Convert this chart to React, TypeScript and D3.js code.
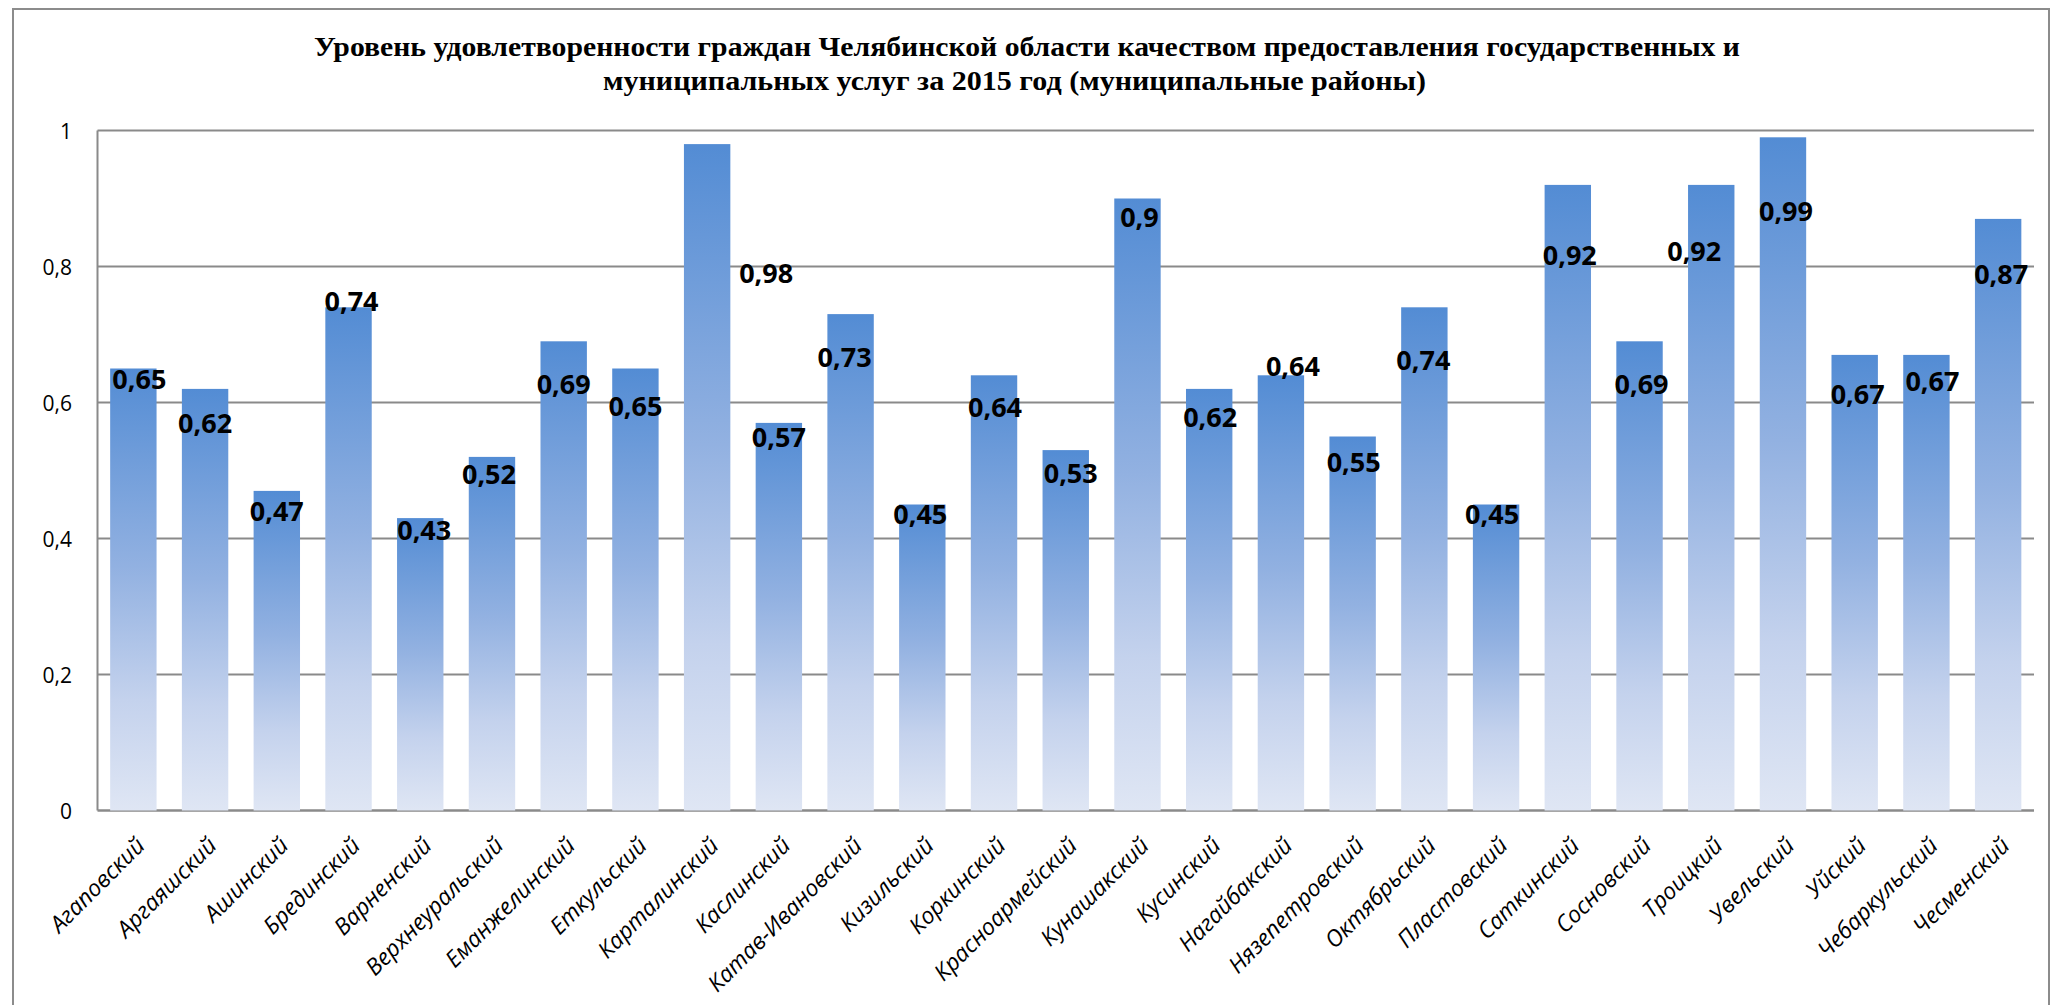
import * as React from "react";
import * as d3 from "d3";

const DISTRICTS: string[] = [
  "Агаповский", "Аргаяшский", "Ашинский", "Брединский", "Варненский",
  "Верхнеуральский", "Еманжелинский", "Еткульский", "Карталинский", "Каслинский",
  "Катав-Ивановский", "Кизильский", "Коркинский", "Красноармейский", "Кунашакский",
  "Кусинский", "Нагайбакский", "Нязепетровский", "Октябрьский", "Пластовский",
  "Саткинский", "Сосновский", "Троицкий", "Увельский", "Уйский",
  "Чебаркульский", "Чесменский",
];

const SATISFACTION: number[] = [
  0.65, 0.62, 0.47, 0.74, 0.43, 0.52, 0.69, 0.65, 0.98, 0.57,
  0.73, 0.45, 0.64, 0.53, 0.9, 0.62, 0.64, 0.55, 0.74, 0.45,
  0.92, 0.69, 0.92, 0.99, 0.67, 0.67, 0.87,
];

const Y_TICKS: number[] = [0, 0.2, 0.4, 0.6, 0.8, 1];

const TITLE_LINES: string[] = [
  "Уровень удовлетворенности граждан Челябинской области качеством предоставления государственных  и",
  "муниципальных услуг за 2015 год (муниципальные районы)",
];

// hand-placed data labels in the original: nudge [dx, dy] from bar top centre
const LABEL_NUDGE: [number, number][] = [
  [6, 10], [0, 34], [0, 20], [3, -7], [4, 11], [-3, 17], [0, 42], [0, 37], [59, 128], [0, 14],
  [-6, 42], [-2, 9], [1, 31], [5, 22], [2, 18], [1, 28], [12, -10], [1, 25], [-1, 52], [-4, 9],
  [2, 70], [2, 42], [-17, 66], [3, 73], [3, 39], [6, 26], [3, 55],
];

const W = 2052;
const H = 1005;
const plot = { left: 97.5, right: 2034, top: 130.5, bottom: 810.5 };

const fmt = (v: number) => String(v).replace(".", ",");

export default function App() {
  const x = d3
    .scaleBand<string>()
    .domain(DISTRICTS)
    .range([plot.left, plot.right])
    .paddingInner(0.353)
    .paddingOuter(0.1765);

  const y = d3.scaleLinear().domain([0, 1]).range([plot.bottom, plot.top]);

  const sans = "'Open Sans', 'Noto Sans', sans-serif";

  return (
    <svg
      width={W}
      height={H}
      style={{ position: "absolute", left: 0, top: 0, background: "#fff" }}
    >
      <defs>
        <linearGradient id="barFill" x1="0" y1="0" x2="0" y2="1">
          <stop offset="0" stopColor="#538cd4" />
          <stop offset="0.45" stopColor="#92b1e1" />
          <stop offset="0.75" stopColor="#c4d2ed" />
          <stop offset="1" stopColor="#dfe6f4" />
        </linearGradient>
      </defs>

      <rect x={13} y={9} width={2036} height={1010} fill="none" stroke="#8c8c8c" strokeWidth={2} />

      {TITLE_LINES.map((t, i) => (
        <text
          key={i}
          x={i === 0 ? 1027 : 1014.5}
          y={46 + i * 34}
          textAnchor="middle"
          dominantBaseline="central"
          fontFamily="'Liberation Serif', 'Times New Roman', serif"
          fontWeight="bold"
          fontSize={28}
          textLength={i === 0 ? 1426 : 823}
          lengthAdjust="spacingAndGlyphs"
        >
          {t}
        </text>
      ))}

      {Y_TICKS.map((t) => (
        <g key={t}>
          <line
            x1={plot.left}
            x2={plot.right}
            y1={y(t)}
            y2={y(t)}
            stroke="#8a8a8a"
            strokeWidth={t === 0 ? 2.5 : 2}
          />
          <text
            x={72}
            y={y(t)}
            textAnchor="end"
            dominantBaseline="central"
            fontFamily={sans}
            fontSize={21}
            fill="#000"
          >
            {fmt(t)}
          </text>
        </g>
      ))}
      <line x1={plot.left} x2={plot.left} y1={plot.top} y2={plot.bottom} stroke="#8a8a8a" strokeWidth={2} />

      {DISTRICTS.map((d, i) => {
        const v = SATISFACTION[i];
        const bx = x(d) ?? 0;
        return (
          <rect
            key={d}
            x={bx}
            y={y(v)}
            width={x.bandwidth()}
            height={y(0) - y(v)}
            fill="url(#barFill)"
          />
        );
      })}

      {DISTRICTS.map((d, i) => {
        const v = SATISFACTION[i];
        const cx = (x(d) ?? 0) + x.bandwidth() / 2;
        const [dx, dy] = LABEL_NUDGE[i];
        return (
          <text
            key={d}
            x={cx + dx}
            y={y(v) + dy}
            textAnchor="middle"
            dominantBaseline="central"
            fontFamily={sans}
            fontWeight="bold"
            fontSize={27}
            fill="#000"
          >
            {fmt(v)}
          </text>
        );
      })}

      {DISTRICTS.map((d) => {
        const cx = (x(d) ?? 0) + x.bandwidth() / 2;
        return (
          <text
            key={d}
            transform={`translate(${cx + 13},${847}) rotate(-45)`}
            textAnchor="end"
            fontFamily={sans}
            fontStyle="italic"
            fontSize={23}
            fill="#000"
          >
            {d}
          </text>
        );
      })}
    </svg>
  );
}
